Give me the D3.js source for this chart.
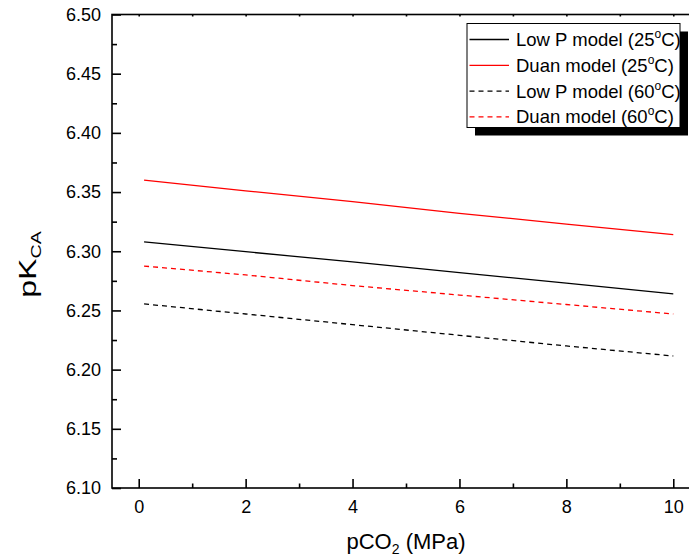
<!DOCTYPE html>
<html><head><meta charset="utf-8">
<script src="https://cdn.jsdelivr.net/npm/d3@7"></script>
<style>body{margin:0;background:#fff}svg{display:block}text{font-family:"Liberation Sans",Arial,sans-serif;fill:#000}</style>
</head><body><svg id="c" width="689" height="559"></svg>
<script>
const pressure = [0.1, 2, 4, 6, 8, 10];
const lowP25 = [6.308, 6.2996, 6.291, 6.282, 6.273, 6.264];
const duan25 = [6.360, 6.351, 6.342, 6.332, 6.323, 6.314];
const lowP60 = [6.2555, 6.247, 6.238, 6.229, 6.220, 6.2115];
const duan60 = [6.2875, 6.280, 6.271, 6.263, 6.255, 6.247];
const seriesNames = ["Low P model (25", "Duan model (25", "Low P model (60", "Duan model (60"];
const xTicks = [0, 2, 4, 6, 8, 10];
const yTicks = [6.10, 6.15, 6.20, 6.25, 6.30, 6.35, 6.40, 6.45, 6.50];

const series = [
  {name: seriesNames[0], vals: lowP25, color: "#000", dash: null},
  {name: seriesNames[1], vals: duan25, color: "#ff0000", dash: null},
  {name: seriesNames[2], vals: lowP60, color: "#000", dash: "5,4"},
  {name: seriesNames[3], vals: duan60, color: "#ff0000", dash: "5,4"}
];

const svg = d3.select("#c");
const L = 112, R = 700, T = 14.5, B = 488;
const x = d3.scaleLinear().domain([-0.5, 10.5]).range([L, R]);
const y = d3.scaleLinear().domain([6.10, 6.50]).range([B, T]);

// frame
svg.append("rect").attr("x", L).attr("y", T).attr("width", R - L).attr("height", B - T)
  .attr("fill", "none").attr("stroke", "#000").attr("stroke-width", 1.6);

// axes
const xMinor = d3.range(1, 10, 2);
const yMinor = d3.range(6.125, 6.5, 0.05);
function styleAxis(g){ g.select(".domain").remove(); g.selectAll("line").attr("stroke","#000").attr("stroke-width",1.6); g.selectAll("text").style("font-size","18px").style("font-family","'Liberation Sans', Arial, sans-serif"); }
svg.append("g").attr("transform", `translate(0,${B})`)
  .call(d3.axisBottom(x).tickValues(xTicks).tickFormat(d3.format("d")).tickSizeInner(-9).tickSizeOuter(0).tickPadding(12))
  .call(styleAxis);
svg.append("g").attr("transform", `translate(0,${B})`)
  .call(d3.axisBottom(x).tickValues(xMinor).tickFormat("").tickSizeInner(-4.5).tickSizeOuter(0)).call(styleAxis);
svg.append("g").attr("transform", `translate(0,${T})`)
  .call(d3.axisTop(x).tickValues(xTicks.concat(xMinor)).tickFormat("").tickSizeInner(-2).tickSizeOuter(0)).call(styleAxis);
svg.append("g").attr("transform", `translate(${L},0)`)
  .call(d3.axisLeft(y).tickValues(yTicks).tickFormat(d3.format(".2f")).tickSizeInner(-9).tickSizeOuter(0).tickPadding(11))
  .call(styleAxis);
svg.append("g").attr("transform", `translate(${L},0)`)
  .call(d3.axisLeft(y).tickValues(yMinor).tickFormat("").tickSizeInner(-5).tickSizeOuter(0)).call(styleAxis);

// lines
const line = d3.line().x((d, i) => x(pressure[i])).y(d => y(d));
series.forEach(s => {
  svg.append("path").datum(s.vals).attr("d", line).attr("fill", "none")
    .attr("stroke", s.color).attr("stroke-width", 1.3).attr("stroke-dasharray", s.dash);
});

// legend
const lx = 467, ly = 23.5, lw = 213, lh = 104;
svg.append("rect").attr("x", lx + 8).attr("y", ly + 8).attr("width", lw).attr("height", lh).attr("fill", "#000");
svg.append("rect").attr("x", lx).attr("y", ly).attr("width", lw).attr("height", lh).attr("fill", "#fff").attr("stroke", "#000").attr("stroke-width", 1);
series.forEach((s, i) => {
  const cy = ly + 16 + i * 25.8;
  svg.append("line").attr("x1", lx + 2.5).attr("x2", lx + 42).attr("y1", cy).attr("y2", cy)
    .attr("stroke", s.color).attr("stroke-width", 1.3).attr("stroke-dasharray", s.dash);
  const t = svg.append("text").attr("x", lx + 49).attr("y", cy + 6.5).style("font-size", "18.5px");
  t.append("tspan").text(s.name);
  t.append("tspan").attr("dy", -8).style("font-size", "12px").text("o");
  t.append("tspan").attr("dy", 8).text("C)");
});

// axis titles
const xt = svg.append("text").attr("x", 406).attr("y", 549).attr("text-anchor", "middle").style("font-size", "22px");
xt.append("tspan").text("pCO");
xt.append("tspan").attr("dy", 5).style("font-size", "14px").text("2");
xt.append("tspan").attr("dy", -5).text(" (MPa)");
const yt = svg.append("text").attr("transform", `translate(36,264.5) rotate(-90) scale(1.4,1)`).attr("text-anchor", "middle").style("font-size", "23px");
yt.append("tspan").text("pK");
yt.append("tspan").attr("dy", 5).style("font-size", "14px").text("CA");
</script></body></html>
